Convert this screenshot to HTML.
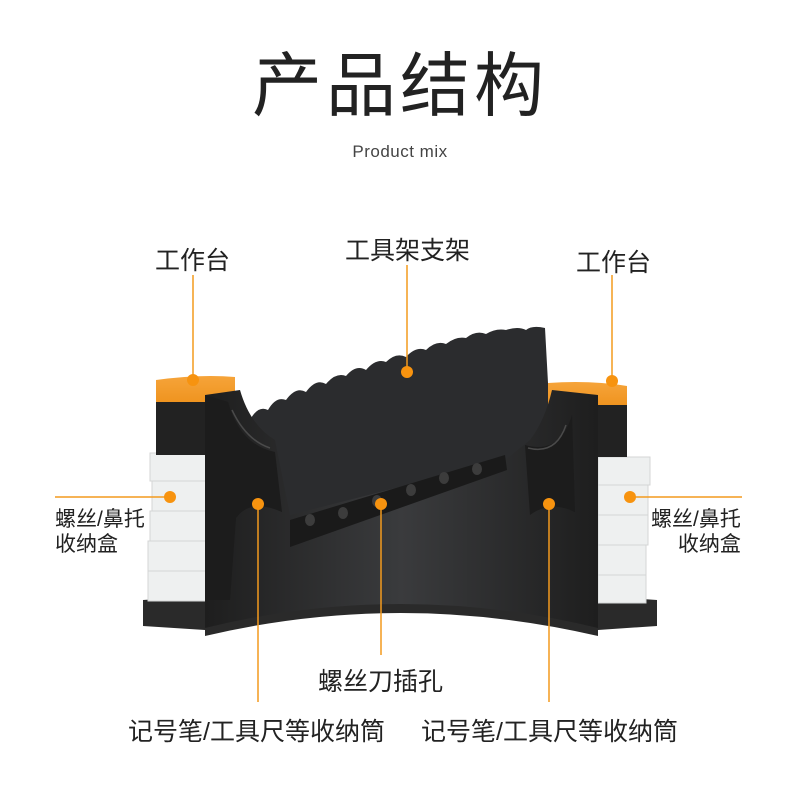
<!DOCTYPE html>
<html><head><meta charset="utf-8"><style>
html,body{margin:0;padding:0;background:#fff;}
body{width:800px;height:800px;position:relative;overflow:hidden;font-family:"Liberation Sans","Noto Sans CJK SC",sans-serif;color:#222;}
.t{position:absolute;white-space:nowrap;}
</style></head><body>
<svg width="800" height="800" style="position:absolute;left:0;top:0">
<defs>
<linearGradient id="bk" x1="0" y1="0" x2="1" y2="0">
<stop offset="0" stop-color="#1e1e1e"/><stop offset="0.5" stop-color="#3a3b3d"/><stop offset="1" stop-color="#1e1e1e"/></linearGradient>
<linearGradient id="or" x1="0" y1="0" x2="0" y2="1"><stop offset="0" stop-color="#f6a43a"/><stop offset="1" stop-color="#ef9420"/></linearGradient>
</defs>
<!-- base -->
<path d="M143,600 L205,596 Q400,570 598,596 L657,600 L657,626 L598,630 L598,636 Q400,590 205,636 L205,630 L143,626 Z" fill="#2a2a2a"/>
<!-- drawers -->
<g fill="#eef0f0" stroke="#d4d6d6">
<rect x="150" y="453" width="56" height="28"/><rect x="152" y="481" width="54" height="30"/><rect x="150" y="511" width="56" height="30"/><rect x="148" y="541" width="58" height="30"/><rect x="148" y="571" width="58" height="30"/>
<rect x="598" y="457" width="52" height="28"/><rect x="598" y="485" width="50" height="30"/><rect x="598" y="515" width="50" height="30"/><rect x="598" y="545" width="48" height="30"/><rect x="598" y="575" width="48" height="28"/>
</g>
<!-- blade -->
<path d="M250,420 Q258,405 268,410 Q276,396 286,400 Q296,386 306,392 Q316,378 326,384 Q336,372 346,376 Q356,364 366,370 Q376,358 386,362 Q396,352 406,357 Q416,346 426,350 Q436,340 446,344 Q456,336 466,338 Q476,330 486,334 Q496,328 506,330 Q518,326 526,330 Q532,325 545,328 L548,383 L548,600 L250,600 Z" fill="#2b2c2e"/>
<!-- left block -->
<rect x="156" y="400" width="74" height="55" fill="#222"/>
<path d="M156,380 Q200,374 235,377 L235,402 L156,402 Z" fill="url(#or)"/>
<!-- right block -->
<rect x="555" y="405" width="72" height="52" fill="#222"/>
<path d="M548,383 Q590,380 627,386 L627,405 L548,405 Z" fill="url(#or)"/>
<!-- main body -->
<path d="M205,395 L240,390 Q250,425 275,440 L290,515 L505,460 L530,440 Q545,420 552,390 L598,395 L598,628 Q400,580 205,628 Z" fill="url(#bk)"/>
<!-- cups -->
<path d="M228,402 Q240,445 275,452 L282,512 Q250,498 236,518 L230,600 L205,600 L205,395 Z" fill="#1c1c1c"/>
<path d="M232,410 Q246,440 270,448" stroke="#4a4a4a" fill="none" stroke-width="1.5"/>
<path d="M525,445 Q560,455 572,415 L575,512 Q550,500 530,515 Z" fill="#1c1c1c"/>
<path d="M528,448 Q556,455 566,425" stroke="#4a4a4a" fill="none" stroke-width="1.5"/>
<!-- ledge -->
<path d="M290,547 L290,520 L505,455 L507,470 Z" fill="#1a1a1a"/>
<g fill="#3c3c3c">
<ellipse cx="310" cy="520" rx="5" ry="6"/><ellipse cx="343" cy="513" rx="5" ry="6"/><ellipse cx="377" cy="501" rx="5" ry="6"/><ellipse cx="411" cy="490" rx="5" ry="6"/><ellipse cx="444" cy="478" rx="5" ry="6"/><ellipse cx="477" cy="469" rx="5" ry="6"/></g>
<!-- leaders -->
<g stroke="#f39a1e" stroke-width="1.5" fill="none">
<line x1="193" y1="275" x2="193" y2="380"/><line x1="407" y1="265" x2="407" y2="372"/><line x1="612" y1="275" x2="612" y2="381"/>
<line x1="55" y1="497" x2="170" y2="497"/><line x1="630" y1="497" x2="742" y2="497"/>
<line x1="258" y1="504" x2="258" y2="702"/><line x1="381" y1="504" x2="381" y2="655"/><line x1="549" y1="504" x2="549" y2="702"/>
</g>
<g fill="#f7930f">
<circle cx="193" cy="380" r="6"/><circle cx="407" cy="372" r="6"/><circle cx="612" cy="381" r="6"/>
<circle cx="170" cy="497" r="6"/><circle cx="630" cy="497" r="6"/>
<circle cx="258" cy="504" r="6"/><circle cx="381" cy="504" r="6"/><circle cx="549" cy="504" r="6"/>
</g>
</svg>
<div class="t" style="left:0;width:800px;text-align:center;top:44px;font-size:70px;letter-spacing:4px;color:#222;line-height:84px">产品结构</div>
<div class="t" style="left:0;width:800px;text-align:center;top:142px;font-size:17px;color:#444;letter-spacing:0.5px">Product mix</div>
<div class="t" style="left:155px;top:241px;font-size:25px">工作台</div>
<div class="t" style="left:345px;top:231px;font-size:25px">工具架支架</div>
<div class="t" style="left:576px;top:243px;font-size:25px">工作台</div>
<div class="t" style="left:55px;top:507px;font-size:21px;line-height:25px">螺丝/鼻托<br>收纳盒</div>
<div class="t" style="left:651px;top:507px;font-size:21px;line-height:25px;text-align:right">螺丝/鼻托<br>收纳盒</div>
<div class="t" style="left:318px;top:662px;font-size:25px">螺丝刀插孔</div>
<div class="t" style="left:128px;top:712px;font-size:25px">记号笔/工具尺等收纳筒</div>
<div class="t" style="left:421px;top:712px;font-size:25px">记号笔/工具尺等收纳筒</div>
</body></html>
